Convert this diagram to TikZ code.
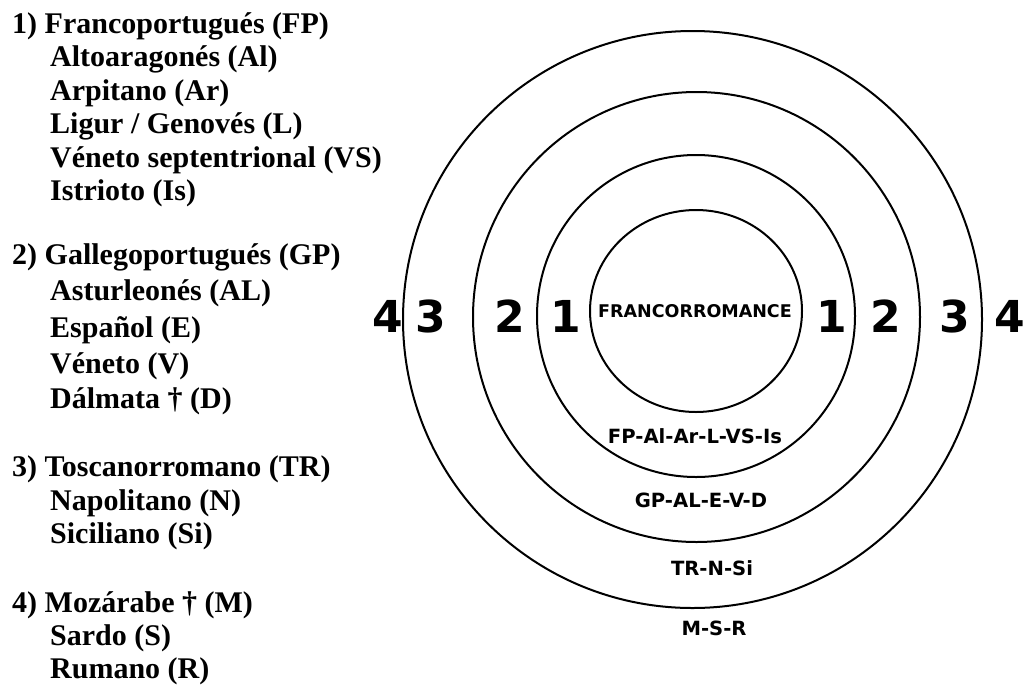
\documentclass[tikz,border=0pt]{standalone}
\usepackage{fontspec}
\setmainfont{Liberation Serif}
\newfontfamily\labelfont{DejaVu Sans}
\begin{document}
\begin{tikzpicture}[x=1pt,y=-1pt,
  ring/.style={draw=black,line width=2pt},
  head/.style={anchor=base west,inner sep=0pt,font=\bfseries\fontsize{30}{30}\selectfont},
  item/.style={head},
  digit/.style={inner sep=0pt,font=\labelfont\bfseries\fontsize{44}{44}\selectfont},
  core/.style={inner sep=0pt,font=\labelfont\bfseries\fontsize{17.5}{17.5}\selectfont},
  group/.style={inner sep=0pt,font=\labelfont\bfseries\fontsize{19.6}{19.6}\selectfont}]
\useasboundingbox (0,0) rectangle (1025,686);

% legend of the four groups
\node[head] (h1) at (12,33)    {1) Francoportugués (FP)};
\node[item] (h1a) at (50,66.5) {Altoaragonés (Al)};
\node[item] (h1b) at (50,100)  {Arpitano (Ar)};
\node[item] (h1c) at (50,133.5){Ligur / Genovés (L)};
\node[item] (h1d) at (50,167)  {Véneto septentrional (VS)};
\node[item] (h1e) at (50,200.5){Istrioto (Is)};

\node[head] (h2) at (12,264)   {2) Gallegoportugués (GP)};
\node[item] (h2a) at (50,300)  {Asturleonés (AL)};
\node[item] (h2b) at (50,337)  {Español (E)};
\node[item] (h2c) at (50,373)  {Véneto (V)};
\node[item] (h2d) at (50,408)  {Dálmata † (D)};

\node[head] (h3) at (12,476)   {3) Toscanorromano (TR)};
\node[item] (h3a) at (50,510)  {Napolitano (N)};
\node[item] (h3b) at (50,543)  {Siciliano (Si)};

\node[head] (h4) at (12,612)   {4) Mozárabe † (M)};
\node[item] (h4a) at (50,645)  {Sardo (S)};
\node[item] (h4b) at (50,678)  {Rumano (R)};

% concentric rings
\draw[ring] (696,311)   ellipse [x radius=106,   y radius=101];
\draw[ring] (696,316)   ellipse [x radius=159,   y radius=161];
\draw[ring] (696.5,317) ellipse [x radius=223.5, y radius=225];
\draw[ring] (692.5,319.5) ellipse [x radius=289.5, y radius=288.5];

% ring numbers
\node[digit] (l4) at (388,316) {4};
\node[digit] (l3) at (431,316) {3};
\node[digit] (l2) at (510,316) {2};
\node[digit] (l1) at (566,316) {1};
\node[digit] (r1) at (832,316) {1};
\node[digit] (r2) at (886,316) {2};
\node[digit] (r3) at (955,316) {3};
\node[digit] (r4) at (1010,316) {4};

% ring contents
\node[core]  (fr) at (695,311) {FRANCORROMANCE};
\node[group] (g1) at (695,436) {FP-Al-Ar-L-VS-Is};
\node[group] (g2) at (701,500) {GP-AL-E-V-D};
\node[group] (g3) at (712,568) {TR-N-Si};
\node[group] (g4) at (714,628) {M-S-R};
\end{tikzpicture}
\end{document}
